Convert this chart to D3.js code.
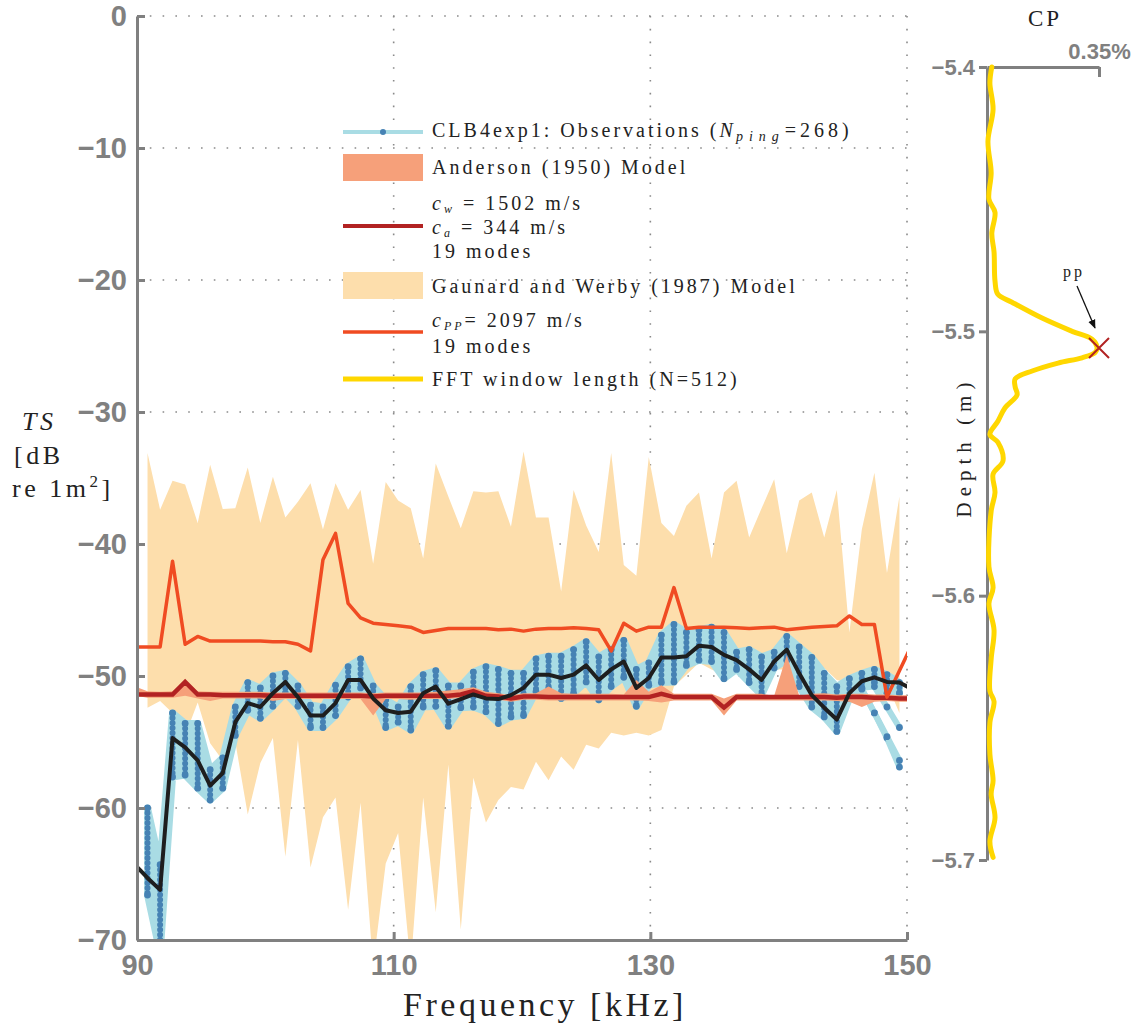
<!DOCTYPE html>
<html>
<head>
<meta charset="utf-8">
<script src="https://cdn.jsdelivr.net/npm/d3@7"></script>
<style>
  body { margin: 0; background: #fff; }
  svg text { font-family: "Liberation Serif", "Times New Roman", serif; fill: #222; }
  .axis path, .axis line { stroke: #808080; stroke-width: 3; }
  .axis text { font-family: "Liberation Sans", Arial, sans-serif; font-weight: bold; fill: #808080; }
</style>
</head>
<body>
<svg id="chart" width="1143" height="1030"></svg>
<script>
// frequency bins (kHz)
var freq = [89.84, 90.82, 91.80, 92.77, 93.75, 94.73, 95.70, 96.68, 97.66, 98.63,
  99.61, 100.59, 101.56, 102.54, 103.52, 104.49, 105.47, 106.45, 107.42, 108.40,
  109.38, 110.35, 111.33, 112.30, 113.28, 114.26, 115.23, 116.21, 117.19, 118.16,
  119.14, 120.12, 121.09, 122.07, 123.05, 124.02, 125.00, 125.98, 126.95, 127.93,
  128.91, 129.88, 130.86, 131.84, 132.81, 133.79, 134.77, 135.74, 136.72, 137.70,
  138.67, 139.65, 140.63, 141.60, 142.58, 143.55, 144.53, 145.51, 146.48, 147.46,
  148.44, 149.41, 150.39]

// observations: top and bottom of the ping spread, and the mean
var obsHi = [null, -60.0, -64.3, -52.8, -53.6, -53.6, -57.1, -56.2, -52.35, -50.5,
  -50.9, -50.0, -49.8, -50.75, -52.2, -52.35, -50.7, -49.3, -48.7, -50.75,
  -51.8, -52.35, -50.8, -49.9, -49.6, -50.75, -50.75, -49.7, -49.3, -49.5,
  -49.8, -49.8, -48.7, -48.5, -48.5, -48.0, -47.4, -48.55, -48.0, -47.3,
  -49.5, -49.0, -46.9, -46.1, -46.7, -46.5, -46.3, -46.7, -48.2, -48.0,
  -48.55, -48.2, -47.0, -47.8, -48.6, -49.8, -50.8, -50.2, -49.8, -49.5,
  -49.9, -50.5, null]
var obsLo = [null, -66.6, -71, -57.65, -57.5, -58.5, -59.4, -58.5, -54.5, -52.6,
  -53.2, -52.3, -51.3, -52.3, -53.9, -53.9, -53.0, -51.6, -50.9, -51.6,
  -53.9, -53.5, -54.1, -52.35, -52.3, -53.8, -52.4, -52.35, -52.7, -53.6,
  -53.1, -53.0, -51.2, -51.0, -51.7, -51.3, -50.45, -51.8, -50.8, -50.1,
  -52.3, -50.7, -50.5, -50.45, -49.2, -48.8, -48.9, -50.2, -49.5, -50.5,
  -51.45, -49.4, -48.8, -50.8, -52.35, -53.1, -54.2, -51.7, -50.9, -50.5,
  -51.3, -51.3, null]
var obsMean = [-64.3, -65.3, -66.2, -54.7, -55.4, -56.4, -58.3, -57.35, -53.5, -52.05,
  -52.35, -51.3, -50.45, -51.6, -53.0, -53.0, -52.05, -50.3, -50.3, -51.7,
  -52.6, -52.8, -52.7, -51.3, -50.8, -52.1, -51.75, -51.4, -51.7, -51.75,
  -51.45, -50.9, -49.9, -49.9, -50.15, -49.9, -49.2, -50.3, -49.5, -48.9,
  -50.9, -50.15, -48.6, -48.6, -48.5, -47.7, -47.8, -48.4, -48.8, -49.5,
  -50.3, -48.9, -48.0, -49.8, -51.45, -52.4, -53.3, -51.3, -50.4, -50.1,
  -50.45, -50.5, -51.0]

// single pings that drop away at the top end
var outlierFreq = [145.51, 146.48, 147.46, 148.44, 149.41]
var pingA = [-51.7, -51.0, -52.8, -54.7, -56.9]
var pingB = [-51.7, -50.9, -50.8, -52.35, -53.9]
var pingC = [-51.7, -51.0, -52.8, -54.6, -56.4]

// Anderson (1950) model
var andMid = [-51.4, -51.4, -51.4, -51.4, -50.45, -51.4, -51.4, -51.45, -51.45, -51.45,
  -51.45, -51.5, -51.5, -51.5, -51.5, -51.5, -51.5, -51.5, -51.5, -51.55,
  -51.5, -51.5, -51.5, -51.5, -51.5, -51.5, -51.4, -51.15, -51.5, -51.55,
  -51.7, -51.55, -51.55, -51.6, -51.6, -51.6, -51.6, -51.6, -51.6, -51.6,
  -51.6, -51.6, -51.35, -51.6, -51.6, -51.6, -51.6, -52.4, -51.6, -51.6,
  -51.6, -51.6, -51.6, -51.6, -51.6, -51.6, -51.65, -51.6, -51.6, -51.65,
  -51.65, -51.7, -51.7]
var andHi = [-50.8, -51.15, -51.2, -51.15, -50.3, -51.15, -51.2, -51.2, -51.2, -51.2,
  -51.2, -51.25, -51.25, -51.25, -51.25, -51.25, -51.25, -51.25, -51.25, -51.3,
  -51.25, -51.25, -51.25, -51.25, -51.2, -51.1, -51.0, -50.85, -51.2, -51.3,
  -51.45, -51.3, -51.3, -50.8, -51.3, -51.35, -51.35, -51.35, -51.35, -51.4,
  -50.3, -51.2, -50.7, -51.35, -51.35, -51.35, -51.35, -51.7, -51.35, -51.35,
  -51.35, -51.5, -48.4, -51.5, -51.35, -51.3, -51.4, -51.35, -51.35, -51.4,
  -51.4, -51.45, -51.45]
var andLo = [-51.5, -51.65, -51.65, -51.65, -51.5, -51.7, -51.9, -51.7, -51.7, -51.7,
  -51.7, -51.9, -51.75, -51.75, -51.75, -51.75, -51.75, -51.75, -51.75, -53.0,
  -51.75, -51.75, -51.8, -51.75, -51.75, -51.75, -51.65, -51.5, -51.75, -51.8,
  -51.95, -51.8, -51.8, -51.85, -51.85, -51.85, -51.85, -51.85, -51.85, -51.85,
  -51.85, -51.9, -52.0, -51.85, -51.85, -51.85, -51.85, -53.0, -51.85, -51.85,
  -51.85, -51.85, -51.85, -51.85, -51.85, -51.85, -51.9, -51.95, -52.35, -51.95,
  -51.9, -51.95, -51.95]

// Gaunard and Werby (1987) model
var gwHi = [null, -33.1, -37.4, -35.2, -35.5, -38.4, -34.0, -37.35, -37.3, -34.2,
  -38.4, -34.9, -38.0, -36.8, -35.4, -38.9, -35.4, -37.4, -35.9, -41.5,
  -35.3, -36.7, -37.3, -41.1, -33.9, -36.4, -38.8, -36.0, -36.1, -36.0,
  -38.7, -33.0, -38.0, -38.0, -43.6, -35.9, -38.6, -40.6, -33.1, -41.6,
  -42.4, -33.4, -38.4, -39.4, -37.1, -36.1, -41.1, -36.1, -35.2, -39.5,
  -37.3, -35.1, -40.7, -36.7, -36.1, -39.5, -35.9, -46.7, -38.9, -34.6,
  -42.2, -36.4, null]
var gwLo = [null, -52.4, -51.9, -52.8, -54.5, -52.0, -55.1, -56.4, -55.0, -60.5,
  -56.6, -54.7, -63.7, -54.85, -64.5, -60.7, -59.2, -67.7, -59.6, -72,
  -64.2, -61.9, -72, -59.2, -67.9, -56.7, -69.2, -57.7, -61.1, -59.4,
  -58.4, -58.6, -56.5, -57.9, -56.1, -57.1, -55.2, -55.5, -54.3, -54.5,
  -54.3, -54.5, -54.1, -50.8, -49.9, -49.0, -49.5, -49.9, -49.8, -49.9,
  -50.5, -49.5, -49.5, -50.1, -50.3, -49.4, -50.3, -50.5, -50.6, -50.8,
  -50.6, -52.8, null]
var gwCpp = [-47.8, -47.8, -47.8, -41.3, -47.6, -47.0, -47.35, -47.35, -47.35, -47.35,
  -47.35, -47.4, -47.4, -47.6, -48.1, -41.2, -39.2, -44.5, -45.6, -46.0,
  -46.1, -46.2, -46.3, -46.7, -46.55, -46.4, -46.4, -46.4, -46.4, -46.5,
  -46.45, -46.6, -46.45, -46.4, -46.4, -46.35, -46.4, -46.5, -48.1, -46.0,
  -46.6, -46.3, -46.3, -43.3, -46.4, -46.3, -46.3, -46.3, -46.35, -46.4,
  -46.35, -46.3, -46.5, -46.4, -46.3, -46.25, -46.2, -45.45, -46.1, -46.1,
  -51.6, -49.6, -47.6]

// CP profile against depth
var cpDepth = [-5.400, -5.406, -5.416, -5.428, -5.440, -5.450, -5.455, -5.463, -5.470, -5.481,
  -5.486, -5.489, -5.495, -5.500, -5.503, -5.506, -5.508, -5.510, -5.512, -5.515,
  -5.518, -5.521, -5.524, -5.529, -5.534, -5.539, -5.542, -5.549, -5.554, -5.561,
  -5.568, -5.589, -5.597, -5.603, -5.613, -5.624, -5.636, -5.640, -5.648, -5.660,
  -5.670, -5.675, -5.684, -5.693, -5.699]
var cpValue = [0.015, 0.009, 0.019, 0.003, 0.013, 0.006, 0.025, 0.015, 0.022, 0.025,
  0.034, 0.078, 0.172, 0.266, 0.328, 0.344, 0.338, 0.297, 0.222, 0.141,
  0.088, 0.088, 0.094, 0.056, 0.034, 0.009, 0.034, 0.050, 0.019, 0.025,
  0.013, 0.006, 0.019, 0.006, 0.022, 0.013, 0.009, 0.022, 0.009, 0.009,
  0.019, 0.013, 0.025, 0.009, 0.019]
var ppPoint = {depth: -5.5063, cp: 0.35}

var tsTicks = [0, -10, -20, -30, -40, -50, -60, -70]
var freqTicks = [90, 110, 130, 150]
var depthTicks = [-5.4, -5.5, -5.6, -5.7]
var cpTicks = [0.35]

var idx = d3.range(freq.length)
var svg = d3.select('#chart')

var x = d3.scaleLinear().domain([90, 150]).range([137, 907])
var y = d3.scaleLinear().domain([-70, 0]).range([940, 16])

// dotted grid
var grid = svg.append('g').attr('stroke', '#8a8a8a').attr('stroke-width', 1.6)
  .attr('stroke-dasharray', '1.6,11.2')
grid.selectAll('.hg').data(tsTicks.filter(function(d){ return d > -70 }))
  .enter().append('line')
  .attr('x1', x(90)).attr('x2', x(150))
  .attr('y1', function(d){ return y(d) }).attr('y2', function(d){ return y(d) })
grid.selectAll('.vg').data(freqTicks.filter(function(d){ return d > 90 }))
  .enter().append('line')
  .attr('y1', y(0)).attr('y2', y(-70))
  .attr('x1', function(d){ return x(d) }).attr('x2', function(d){ return x(d) })

svg.append('clipPath').attr('id', 'plot-clip').append('rect')
  .attr('x', x(90)).attr('y', y(0))
  .attr('width', x(150) - x(90)).attr('height', y(-70) - y(0))

var plot = svg.append('g').attr('clip-path', 'url(#plot-clip)')

// Gaunard and Werby band
plot.append('path')
  .datum(idx)
  .attr('fill', '#FDDEAC')
  .attr('d', d3.area()
    .defined(function(i){ return gwHi[i] != null })
    .x(function(i){ return x(freq[i]) })
    .y0(function(i){ return y(gwLo[i]) })
    .y1(function(i){ return y(gwHi[i]) }))

// observation spread
var obsDef = function(i){ return obsHi[i] != null }
var lightBlue = '#A9DCE4'
plot.append('path')
  .datum(idx)
  .attr('fill', lightBlue)
  .attr('stroke', lightBlue)
  .attr('stroke-width', 7)
  .attr('stroke-linejoin', 'round')
  .attr('d', d3.area().defined(obsDef)
    .x(function(i){ return x(freq[i]) })
    .y0(function(i){ return y(obsLo[i]) })
    .y1(function(i){ return y(obsHi[i]) }))

var pingLine = d3.line()
  .x(function(d, i){ return x(outlierFreq[i]) })
  .y(function(d){ return y(d) })
;[pingA, pingB, pingC].forEach(function(p){
  plot.append('path').datum(p)
    .attr('fill', 'none').attr('stroke', lightBlue).attr('stroke-width', 6)
    .attr('stroke-linejoin', 'round').attr('stroke-linecap', 'round')
    .attr('d', pingLine)
  plot.selectAll(null).data(p).enter().append('circle')
    .attr('cx', function(d, i){ return x(outlierFreq[i]) })
    .attr('cy', function(d){ return y(d) })
    .attr('r', 3.4).attr('fill', '#4682B4')
})

var obsIdx = idx.filter(obsDef)
plot.selectAll('.col').data(obsIdx).enter().append('line')
  .attr('x1', function(i){ return x(freq[i]) }).attr('x2', function(i){ return x(freq[i]) })
  .attr('y1', function(i){ return y(obsHi[i]) }).attr('y2', function(i){ return y(obsLo[i]) })
  .attr('stroke', '#4682B4').attr('stroke-width', 6)
  .attr('stroke-linecap', 'round').attr('stroke-dasharray', '0,5')
plot.selectAll('.end').data(obsIdx.map(function(i){ return [i, obsHi[i]] })
    .concat(obsIdx.map(function(i){ return [i, obsLo[i]] })))
  .enter().append('circle')
  .attr('cx', function(d){ return x(freq[d[0]]) })
  .attr('cy', function(d){ return y(d[1]) })
  .attr('r', 3.4).attr('fill', '#4682B4')

// Anderson model
plot.append('path').datum(idx)
  .attr('fill', '#F6A07A')
  .attr('d', d3.area()
    .x(function(i){ return x(freq[i]) })
    .y0(function(i){ return y(andLo[i]) })
    .y1(function(i){ return y(andHi[i]) }))

var freqLine = function(arr){
  return d3.line()
    .x(function(d, i){ return x(freq[i]) })
    .y(function(d){ return y(d) })(arr)
}
plot.append('path').attr('d', freqLine(andMid))
  .attr('fill', 'none').attr('stroke', '#B22222').attr('stroke-width', 4.5)
plot.append('path').attr('d', freqLine(gwCpp))
  .attr('fill', 'none').attr('stroke', '#F04B22').attr('stroke-width', 3.5)
  .attr('stroke-linejoin', 'round')
plot.append('path').attr('d', freqLine(obsMean))
  .attr('fill', 'none').attr('stroke', '#1e1e1e').attr('stroke-width', 4)
  .attr('stroke-linejoin', 'round')

// axes
var yAxis = d3.axisLeft(y).tickValues(tsTicks).tickSizeInner(-8).tickSizeOuter(0).tickPadding(10)
var xAxis = d3.axisBottom(x).tickValues(freqTicks).tickSizeInner(-8).tickSizeOuter(0).tickPadding(14)
var gy = svg.append('g').attr('class', 'axis').attr('transform', 'translate(' + x(90) + ',0)').call(yAxis)
var gx = svg.append('g').attr('class', 'axis').attr('transform', 'translate(0,' + y(-70) + ')').call(xAxis)
gy.selectAll('text').style('font-size', '29px')
gx.selectAll('text').style('font-size', '29px')

svg.append('text').attr('x', 545).attr('y', 1016).attr('text-anchor', 'middle')
  .style('font-size', '34px').style('letter-spacing', '3.5px').text('Frequency [kHz]')

var ylab = svg.append('g').style('font-size', '26px').style('letter-spacing', '3.5px')
ylab.append('text').attr('x', 22).attr('y', 430).style('font-style', 'italic').text('TS')
ylab.append('text').attr('x', 14).attr('y', 464).text('[dB')
var yl3 = ylab.append('text').attr('x', 12).attr('y', 497)
yl3.append('tspan').text('re 1m')
yl3.append('tspan').attr('dy', -10).style('font-size', '17px').text('2')
yl3.append('tspan').attr('dy', 10).text(']')

// legend
var lg = svg.append('g').style('font-size', '20px').style('letter-spacing', '3px')
var lx0 = 343, lx1 = 423, tx = 432
lg.append('line').attr('x1', lx0).attr('x2', lx1).attr('y1', 132).attr('y2', 132)
  .attr('stroke', lightBlue).attr('stroke-width', 4)
lg.append('circle').attr('cx', 383).attr('cy', 132).attr('r', 3).attr('fill', '#4682B4')
var t1 = lg.append('text').attr('x', tx).attr('y', 137)
t1.append('tspan').text('CLB4exp1: Observations (')
t1.append('tspan').style('font-style', 'italic').text('N')
t1.append('tspan').attr('dy', 4).style('font-style', 'italic').style('font-size', '14px')
  .style('letter-spacing', '6px').text('ping')
t1.append('tspan').attr('dy', -4).style('letter-spacing', '4px').text('=268)')

lg.append('rect').attr('x', lx0).attr('y', 154).attr('width', lx1 - lx0).attr('height', 27)
  .attr('fill', '#F6A07A')
lg.append('text').attr('x', tx).attr('y', 174).text('Anderson (1950) Model')

lg.append('line').attr('x1', lx0).attr('x2', lx1).attr('y1', 226).attr('y2', 226)
  .attr('stroke', '#B22222').attr('stroke-width', 4)
var t2 = lg.append('text').attr('x', tx).attr('y', 210)
t2.append('tspan').style('font-style', 'italic').text('c')
t2.append('tspan').attr('dy', 3).style('font-style', 'italic').style('font-size', '12px').text('w')
t2.append('tspan').attr('dy', -3).text(' = 1502 m/s')
var t3 = lg.append('text').attr('x', tx).attr('y', 234)
t3.append('tspan').style('font-style', 'italic').text('c')
t3.append('tspan').attr('dy', 3).style('font-style', 'italic').style('font-size', '12px').text('a')
t3.append('tspan').attr('dy', -3).text(' = 344 m/s')
lg.append('text').attr('x', tx).attr('y', 258).text('19 modes')

lg.append('rect').attr('x', lx0).attr('y', 272).attr('width', lx1 - lx0).attr('height', 27)
  .attr('fill', '#FDDEAC')
lg.append('text').attr('x', tx).attr('y', 293).text('Gaunard and Werby (1987) Model')

lg.append('line').attr('x1', lx0).attr('x2', lx1).attr('y1', 332).attr('y2', 332)
  .attr('stroke', '#F04B22').attr('stroke-width', 3.5)
var t4 = lg.append('text').attr('x', tx).attr('y', 327)
t4.append('tspan').style('font-style', 'italic').text('c')
t4.append('tspan').attr('dy', 3).style('font-style', 'italic').style('font-size', '12px').text('PP')
t4.append('tspan').attr('dy', -3).text('= 2097 m/s')
lg.append('text').attr('x', tx).attr('y', 353).text('19 modes')

lg.append('line').attr('x1', lx0).attr('x2', lx1).attr('y1', 379).attr('y2', 379)
  .attr('stroke', '#FFD700').attr('stroke-width', 5)
lg.append('text').attr('x', tx).attr('y', 386).text('FFT window length (N=512)')

// CP depth profile
var xr = d3.scaleLinear().domain([0, 0.35]).range([987, 1099])
var yr = d3.scaleLinear().domain([-5.7, -5.4]).range([860, 67])

var gyr = svg.append('g').attr('class', 'axis').attr('transform', 'translate(' + xr(0) + ',0)')
  .call(d3.axisLeft(yr).tickValues(depthTicks).tickSizeInner(8).tickSizeOuter(0).tickPadding(4)
    .tickFormat(d3.format('.1f')))
var gxr = svg.append('g').attr('class', 'axis').attr('transform', 'translate(0,' + yr(-5.4) + ')')
  .call(d3.axisTop(xr).tickValues(cpTicks).tickSizeInner(-10).tickSizeOuter(0).tickPadding(8)
    .tickFormat(function(d){ return d + '%' }))
gyr.selectAll('text').style('font-size', '22px')
gxr.selectAll('text').style('font-size', '22px')

svg.append('path').datum(cpDepth)
  .attr('fill', 'none').attr('stroke', '#FFD700').attr('stroke-width', 5)
  .attr('stroke-linejoin', 'round').attr('stroke-linecap', 'round')
  .attr('d', d3.line().curve(d3.curveCatmullRom)
    .x(function(d, i){ return xr(cpValue[i]) })
    .y(function(d){ return yr(d) }))

var px = xr(ppPoint.cp), py = yr(ppPoint.depth)
svg.append('path')
  .attr('d', 'M' + (px - 10) + ',' + (py - 10) + 'L' + (px + 10) + ',' + (py + 10) +
    'M' + (px - 10) + ',' + (py + 10) + 'L' + (px + 10) + ',' + (py - 10))
  .attr('stroke', '#B22222').attr('stroke-width', 2)

svg.append('defs').append('marker').attr('id', 'arrow')
  .attr('viewBox', '0 0 10 10').attr('refX', 9).attr('refY', 5)
  .attr('markerWidth', 7).attr('markerHeight', 7).attr('orient', 'auto')
  .append('path').attr('d', 'M0,1L10,5L0,9Z').attr('fill', '#111')
svg.append('line').attr('x1', px - 22).attr('y1', py - 62).attr('x2', px - 4).attr('y2', py - 20)
  .attr('stroke', '#111').attr('stroke-width', 1.3).attr('marker-end', 'url(#arrow)')
svg.append('text').attr('x', px - 36).attr('y', py - 71)
  .style('font-size', '16px').style('letter-spacing', '3px').text('pp')

svg.append('text').attr('x', 1045).attr('y', 26).attr('text-anchor', 'middle')
  .style('font-size', '23px').style('letter-spacing', '3px').text('CP')
svg.append('text').attr('transform', 'translate(971,447) rotate(-90)').attr('text-anchor', 'middle')
  .style('font-size', '21px').style('letter-spacing', '6px').text('Depth (m)')
</script>
</body>
</html>
